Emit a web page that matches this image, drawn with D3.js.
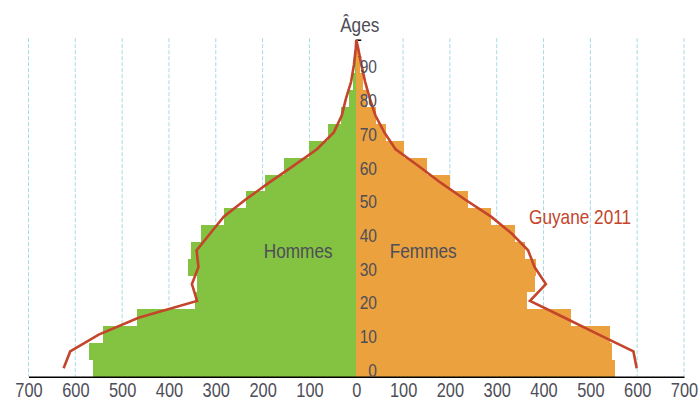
<!DOCTYPE html>
<html>
<head>
<meta charset="utf-8">
<script src="https://cdn.jsdelivr.net/npm/d3@7"></script>
<style>
  body { margin: 0; background: #fff; }
  svg { display: block; font-family: 'Liberation Sans', Arial, sans-serif; }
</style>
</head>
<body>
<div id="chart"></div>
<script>
// age groups (start of each 5-year band)
const ageStarts = [0, 5, 10, 15, 20, 25, 30, 35, 40, 45, 50, 55, 60, 65, 70, 75, 80, 85, 90, 95];
const hommes = [562, 570, 541, 468, 345, 341, 359, 354, 332, 282, 235, 195, 154, 100, 60, 33, 15, 8, 3, 1];
const femmes = [552, 547, 541, 458, 365, 381, 384, 361, 339, 288, 238, 200, 151, 102, 63, 42, 24, 14, 8, 4];

// Guyane 2011 profile (band mid-points)
const lineAges = [2.5, 7.5, 12.5, 17.5, 22.5, 27.5, 32.5, 37.5, 42.5, 47.5, 52.5, 57.5, 62.5, 67.5, 72.5, 77.5, 82.5, 87.5, 92.5, 97.5, 100];
const guyaneHommes = [625, 611, 550, 465, 340, 351, 337, 341, 312, 283, 237, 187, 135, 84, 48, 31, 22, 11, 5, 1, 0];
const guyaneFemmes = [599, 592, 518, 445, 371, 405, 381, 367, 332, 288, 233, 181, 133, 84, 60, 41, 29, 19, 11, 4, 0];

const ageLabels = [0, 10, 20, 30, 40, 50, 60, 70, 80, 90];
const xTicks = [-700, -600, -500, -400, -300, -200, -100, 0, 100, 200, 300, 400, 500, 600, 700];

const width = 700;
const height = 402;
const squeeze = 0.82;
const textColor = '#4e4e58';
const lineColor = '#c4452b';

const svg = d3.select('#chart')
  .append('svg')
  .attr('width', width)
  .attr('height', height);

const x = d3.scaleLinear().domain([-700, 700]).range([28.5, 684]);
const y = d3.scaleLinear().domain([0, 100]).range([376.7, 39.7]);
const band = y(0) - y(5);

// dashed grid
svg.append('g')
  .selectAll('line')
  .data(xTicks.filter(d => d !== 0))
  .enter()
  .append('line')
  .attr('x1', d => x(d))
  .attr('x2', d => x(d))
  .attr('y1', y(100) - 1.5)
  .attr('y2', y(0))
  .attr('stroke', '#a6dbe3')
  .attr('stroke-width', 1)
  .attr('stroke-dasharray', '4,2');

// vertical age axis (mostly hidden behind bars)
const yAxis = svg.append('g')
  .attr('transform', `translate(${x(0)},0)`)
  .call(d3.axisRight(y).tickValues(ageStarts.concat(100)).tickSize(5).tickSizeOuter(0).tickFormat(''));
yAxis.selectAll('path, line').attr('stroke', '#000').attr('stroke-width', 1.5);

const bars = ageStarts.map((a, i) => ({ age: a, h: hommes[i], f: femmes[i] }));

svg.append('g')
  .attr('shape-rendering', 'crispEdges')
  .selectAll('rect')
  .data(bars)
  .enter()
  .append('rect')
  .attr('x', d => x(-d.h))
  .attr('y', d => y(d.age + 5))
  .attr('width', d => x(0) - x(-d.h) + 0.5)
  .attr('height', band)
  .attr('fill', '#84c241');

svg.append('g')
  .attr('shape-rendering', 'crispEdges')
  .selectAll('rect')
  .data(bars)
  .enter()
  .append('rect')
  .attr('x', x(0))
  .attr('y', d => y(d.age + 5))
  .attr('width', d => x(d.f) - x(0))
  .attr('height', band)
  .attr('fill', '#eba13e');

// bottom axis
const xAxis = svg.append('g')
  .attr('transform', `translate(0,${y(0)})`)
  .call(d3.axisBottom(x).tickValues(xTicks).tickSize(0).tickSizeOuter(0).tickFormat(d => Math.abs(d)));
xAxis.select('.domain').attr('stroke', '#000').attr('stroke-width', 1.6);
xAxis.selectAll('text')
  .attr('y', 20.5)
  .attr('dy', 0)
  .attr('transform', `scale(${squeeze},1)`)
  .style('font-size', '20px')
  .style('font-family', "'Liberation Sans', Arial, sans-serif")
  .attr('fill', textColor);

// Guyane 2011 lines
const lineH = d3.line().x(d => x(-d.v)).y(d => y(d.age));
const lineF = d3.line().x(d => x(d.v)).y(d => y(d.age));

svg.append('path')
  .datum(lineAges.map((a, i) => ({ age: a, v: guyaneHommes[i] })))
  .attr('d', lineH)
  .attr('fill', 'none')
  .attr('stroke', lineColor)
  .attr('stroke-width', 2.6)
  .attr('stroke-linejoin', 'miter');

svg.append('path')
  .datum(lineAges.map((a, i) => ({ age: a, v: guyaneFemmes[i] })))
  .attr('d', lineF)
  .attr('fill', 'none')
  .attr('stroke', lineColor)
  .attr('stroke-width', 2.6)
  .attr('stroke-linejoin', 'miter');

// age labels
svg.append('g')
  .selectAll('text')
  .data(ageLabels)
  .enter()
  .append('text')
  .attr('transform', d => `translate(${x(0) + 20.7},${y(d)}) scale(${squeeze},1)`)
  .attr('text-anchor', 'end')
  .style('font-size', '19px')
  .attr('fill', textColor)
  .text(d => d);

const addLabel = (txt, px, py, anchor, color, size) => {
  svg.append('text')
    .attr('transform', `translate(${px},${py}) scale(${squeeze},1)`)
    .attr('text-anchor', anchor)
    .style('font-size', size + 'px')
    .attr('fill', color)
    .text(txt);
};

addLabel('Âges', x(0) + 3.5, 31.5, 'middle', textColor, 21);
addLabel('Hommes', x(-124), y(35.5) + 0.5, 'middle', textColor, 21);
addLabel('Femmes', x(143), y(35.5) + 0.5, 'middle', textColor, 21);
addLabel('Guyane 2011', x(369), y(45.2), 'start', lineColor, 21);
</script>
</body>
</html>
